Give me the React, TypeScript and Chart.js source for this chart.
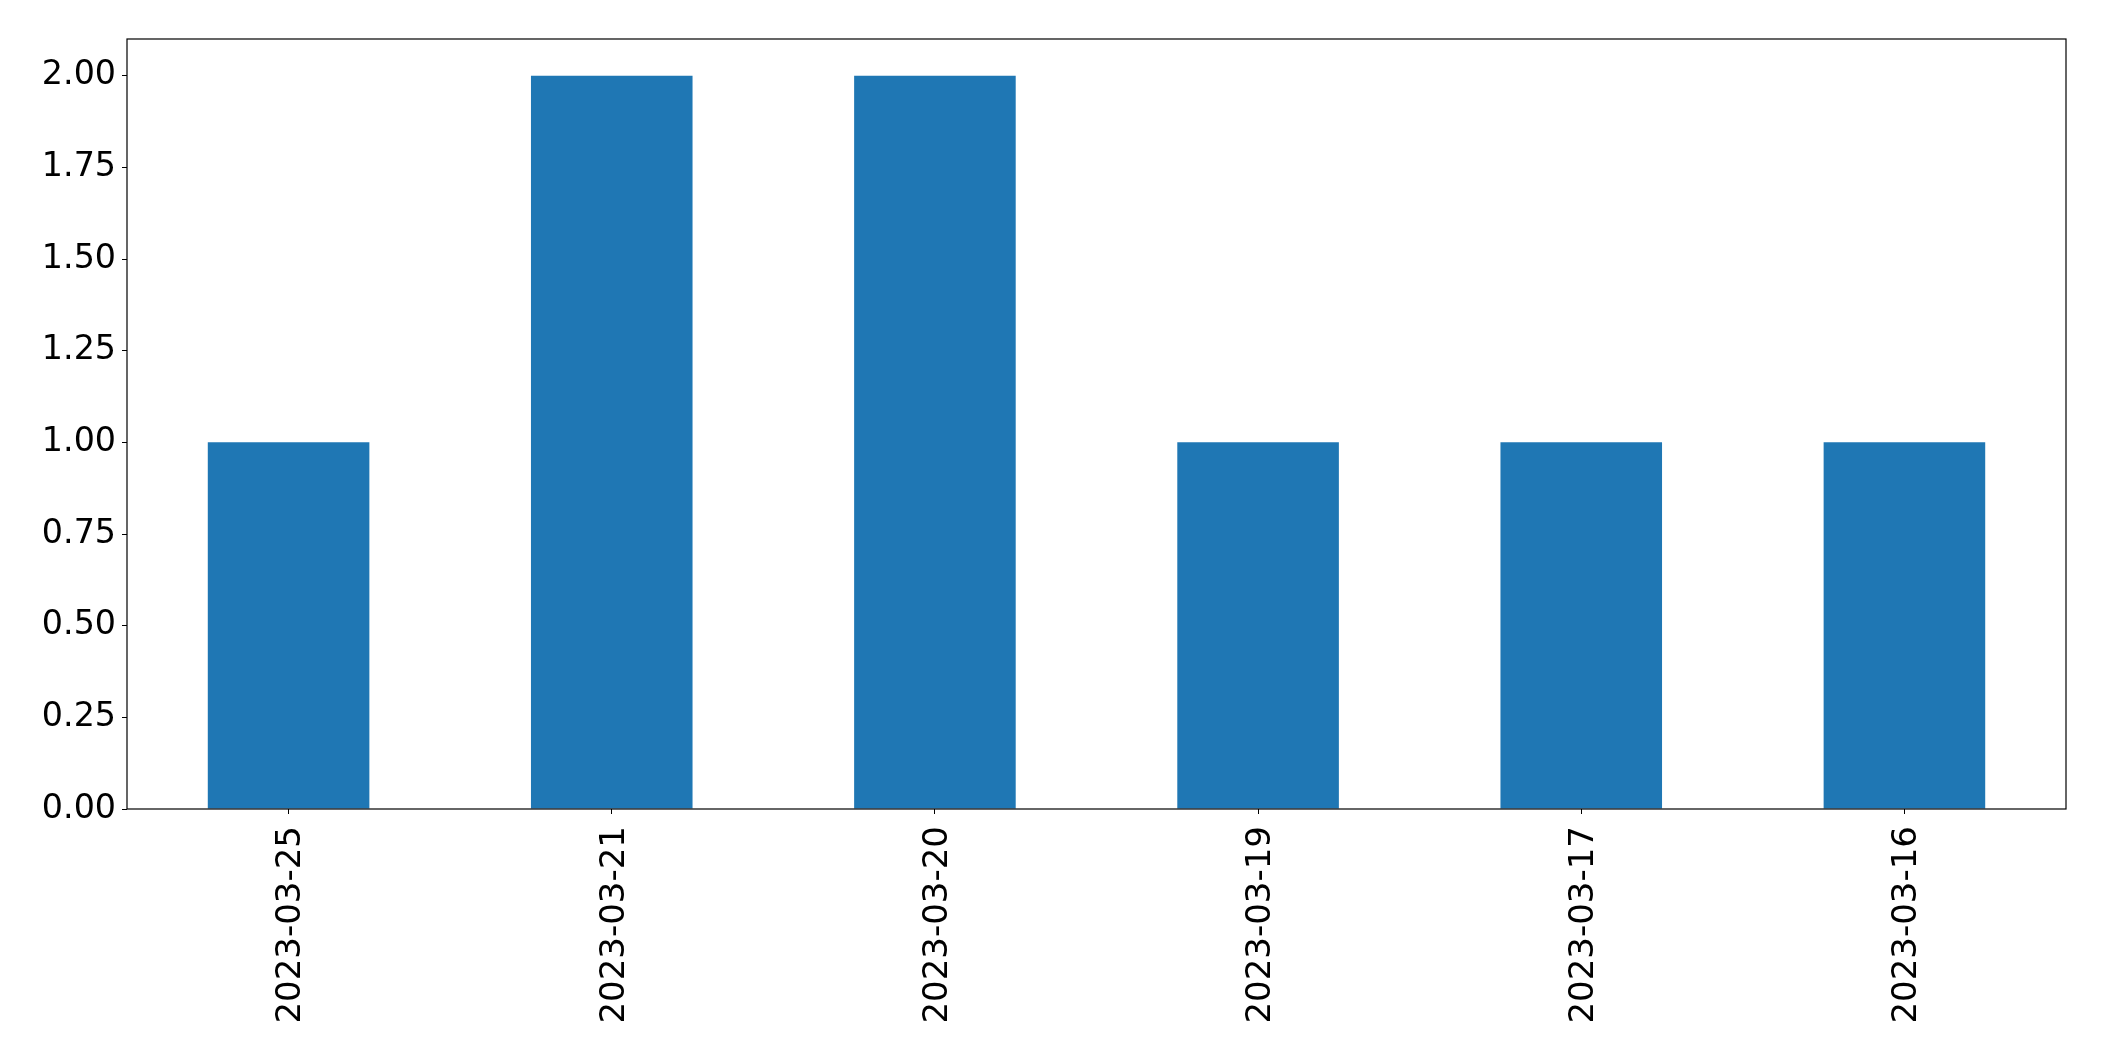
import React, { useEffect, useRef } from "react";
import { Chart, registerables } from "chart.js";

Chart.register(...registerables);

const categories = ["2023-03-25", "2023-03-21", "2023-03-20", "2023-03-19", "2023-03-17", "2023-03-16"];
const counts = [1, 2, 2, 1, 1, 1];
const yMax = 2.1;
const yStep = 0.25;

const W = 2104;
const H = 1061;

const frame = {
  id: "frame",
  afterDraw(chart: any) {
    const { ctx, chartArea } = chart;
    ctx.save();
    ctx.strokeStyle = "#000";
    ctx.lineWidth = 1.2;
    ctx.strokeRect(chartArea.left, chartArea.top, chartArea.right - chartArea.left, chartArea.bottom - chartArea.top);
    ctx.restore();
  },
};

export default function App() {
  const ref = useRef<HTMLCanvasElement | null>(null);
  useEffect(() => {
    document.body.style.margin = "0";
    const c = ref.current!;
    const yFont = { family: "'DejaVu Sans'", size: 33.3 };
    const xFont = { family: "'DejaVu Sans'", size: 34 };
    const chart = new Chart(c, {
      type: "bar",
      data: {
        labels: categories,
        datasets: [
          {
            data: counts,
            backgroundColor: "#1f77b4",
            categoryPercentage: 1,
            barPercentage: 0.5,
          },
        ],
      },
      options: {
        responsive: false,
        animation: false,
        layout: { padding: { left: 0, right: 38, top: 39, bottom: 0 } },
        plugins: { legend: { display: false }, tooltip: { enabled: false } },
        scales: {
          x: {
            grid: { display: true, offset: false, drawOnChartArea: false, tickLength: 5, tickColor: "#000", color: "#000" },
            border: { display: false },
            ticks: { color: "#000", font: xFont, minRotation: 90, maxRotation: 90, padding: 12, labelOffset: 3, autoSkip: false },
            afterFit(s: any) {
              s.height = 252;
            },
          },
          y: {
            min: 0,
            max: yMax,
            grid: { display: true, drawOnChartArea: false, tickLength: 5, tickColor: "#000", color: "#000" },
            border: { display: false },
            ticks: {
              stepSize: yStep,
              includeBounds: false,
              color: "#000",
              font: yFont,
              padding: 6,
              callback: (v: any) => Number(v).toFixed(2),
            },
            afterFit(s: any) {
              s.width = 127;
            },
          },
        },
      },
      plugins: [frame],
    });
    return () => chart.destroy();
  }, []);
  return <canvas ref={ref} width={W} height={H} style={{ display: "block", width: W, height: H }} />;
}
